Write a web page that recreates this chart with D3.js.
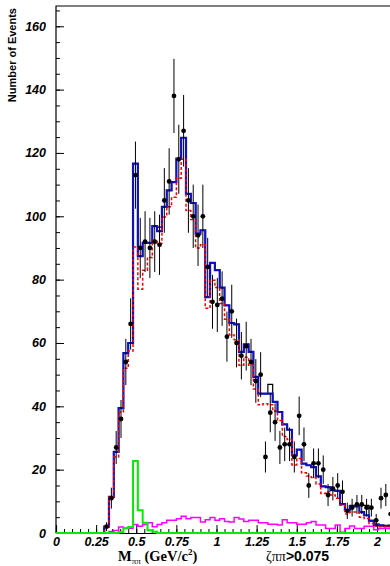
<!DOCTYPE html>
<html>
<head>
<meta charset="utf-8">
<script src="https://cdn.jsdelivr.net/npm/d3@7"></script>
<style>
  body { margin: 0; background: #fff; }
  svg { display: block; }
</style>
</head>
<body>
<svg id="chart" width="390" height="566"></svg>
<script>
// histogram binning (GeV/c^2), first listed bin starts at binLo
const binLo = 0.30;
const binW = 0.03;

// data (points)
const dataCounts = [2, 11, 27, 36, 54, 66, 113, 90, 92, 90, 92, 91, 105, 111, 138, 118, 127, 105, 100, 94,
  100, 84, 73, 72, 74, 62, 70, 60, 56, 59, 54, 48, 50, 24, 38, 35, 27, 28, 28, 24,
  37, 28, 15, 22, 22, 20, 12, 14, 15, 13, 7, 8, 9, 9, 8, 8, 4, 11, 12, 6];
const dataErr = [1.4, 3.3, 5.2, 6, 7.3, 8.1, 10.6, 9.5, 9.6, 9.5, 9.6, 9.5, 10.2, 10.5, 11.7, 10.9, 11.3, 10.2, 10, 9.7,
  10, 9.2, 8.5, 8.5, 8.6, 7.9, 8.4, 7.7, 7.5, 7.7, 7.3, 6.9, 7.1, 4.9, 6.2, 5.9, 5.2, 5.3, 5.3, 4.9,
  6.1, 5.3, 3.9, 4.7, 4.7, 4.5, 3.5, 3.7, 3.9, 3.6, 2.6, 2.8, 3, 3, 2.8, 2.8, 2, 3.3, 3.5, 2.4];

// fit total (blue)
const fitTotal = [2, 11.4, 25.6, 39.4, 56.8, 60, 116.6, 87.4, 91.6, 91.6, 96.9, 95.3, 103, 108.2, 110.8, 118.2, 124.8, 107.1, 104.2, 94.5,
  95.6, 74.5, 85.3, 83, 77.5, 71.9, 66.3, 65.9, 57.2, 59.6, 57.2, 49.3, 44, 44, 44, 41.4, 38.2, 34.3, 32.6, 24.5,
  26.3, 21.9, 21.4, 20.8, 17.9, 14.7, 14.5, 13.5, 13.3, 9.1, 7.2, 8.4, 8.4, 6.6, 5.6, 3.8, 2.7, 2.4, 2.2, 2.2];
// MC total (black)
const mcTotal = [2, 11.4, 25.6, 39.4, 56.8, 60, 116.6, 87.4, 91.6, 91.6, 96.9, 96.6, 103, 108.2, 110.8, 118.2, 124.8, 107.1, 104.2, 94.5,
  95.6, 74.5, 85.3, 83, 77.5, 71.9, 66.3, 65.9, 57.2, 59.6, 57.2, 49.3, 44, 44, 46.9, 41.4, 38.2, 34.3, 32.6, 24.5,
  26.3, 21.9, 21.4, 20.8, 17.9, 14.7, 14.5, 13.5, 13.3, 9.3, 7.2, 8.7, 8.7, 8.7, 8.7, 4, 2.4, 2.4, 2.4, 2.5];
// signal component (red dashed)
const sigComp = [2, 11.4, 24, 38.2, 52, 57.5, 90.3, 77, 83, 87, 92.4, 91.5, 99.8, 103, 106, 112, 118, 101.8, 99, 90,
  91, 71, 79.8, 77.5, 72.5, 67.5, 62.5, 61, 53, 55.5, 53, 45.5, 40.5, 40.8, 40.5, 38.5, 35.5, 30.5, 29.5, 21.5,
  23.5, 19, 18, 17.5, 15.5, 12.5, 13, 12, 11, 8.8, 6, 6.6, 6.6, 5, 4.6, 3, 2.2, 2, 2, 2];
// K0s component (green)
const ksComp = [0, 0, 0, 0.3, 1.5, 1.9, 22.7, 7.2, 3.2, 0.9, 0.4, 0, 0, 0, 0, 0, 0, 0, 0, 0,
  0, 0, 0, 0, 0, 0, 0, 0, 0, 0, 0, 0, 0, 0, 0, 0, 0, 0, 0, 0,
  0, 0, 0, 0, 0, 0, 0, 0, 0, 0, 0, 0, 0, 0, 0, 0, 0, 0, 0, 0];
// background component (magenta)
const bkgComp = [0, 0.5, 0.8, 1.9, 1.5, 1.5, 2.7, 2.1, 2.7, 3.2, 2, 2.7, 3.2, 4, 4, 4.5, 5.3, 4.5, 4.9, 4.9,
  3.5, 4.2, 4.9, 4, 4.5, 3.6, 3.5, 4.9, 4.4, 3.6, 4, 4, 3.2, 3.2, 2.8, 2.8, 2.5, 4.2, 3.2, 3.2,
  2.8, 2.8, 3.2, 3.6, 2.5, 2.5, 1.4, 1.4, 2.5, 0.2, 1.4, 2.2, 1.4, 1.4, 2.1, 2.1, 1, 1.4, 1.4, 1.4];

const xTicks = [0, 0.25, 0.5, 0.75, 1, 1.25, 1.5, 1.75, 2];
const xTickLabels = ['0', '0.25', '0.5', '0.75', '1', '1.25', '1.5', '1.75', '2'];
const yTicks = [0, 20, 40, 60, 80, 100, 120, 140, 160];

const svg = d3.select('#chart');
const padL = 56, padR = 390, padT = 6, padB = 533;

const x = d3.scaleLinear().domain([0, 2.081]).range([padL, padR]);
const y = d3.scaleLinear().domain([0, 166.4]).range([padB, padT]);

const lo = i => binLo + i * binW;

// frame
svg.append('path')
  .attr('d', `M${padL},${padB}V${padT}H${padR}`)
  .attr('fill', 'none')
  .attr('stroke', '#000')
  .attr('stroke-width', 1.2);

// y axis (ticks inward)
const yAxis = svg.append('g')
  .attr('transform', `translate(${padL},0)`)
  .call(d3.axisLeft(y).tickValues(yTicks).tickSize(-8).tickPadding(10).tickFormat(d3.format('d')))
  .call(g => g.select('.domain').remove());
svg.append('g')
  .attr('transform', `translate(${padL},0)`)
  .call(d3.axisLeft(y).tickValues(d3.range(0, 166, 5)).tickSize(-4).tickFormat(''))
  .call(g => g.select('.domain').remove());

// x axis
const xAxis = svg.append('g')
  .attr('transform', `translate(0,${padB})`)
  .call(d3.axisBottom(x).tickValues(xTicks).tickSize(-8).tickPadding(4).tickFormat((d, i) => xTickLabels[i]));
svg.append('g')
  .attr('transform', `translate(0,${padB})`)
  .call(d3.axisBottom(x).tickValues(d3.range(0, 2.08, 0.05)).tickSize(-4).tickFormat(''))
  .call(g => g.select('.domain').remove());

xAxis.select('.domain').attr('stroke-width', 1.2);
[xAxis, yAxis].forEach(g => g.selectAll('text')
  .attr('fill', '#000')
  .style('font-family', '"Liberation Sans", Arial, sans-serif')
  .style('font-size', '12.5px')
  .style('font-weight', 'bold')
  .style('font-style', 'italic'));

// step outline of a histogram
function stepPath(vals, startAtZero) {
  const pts = [];
  if (startAtZero) pts.push([x(0), y(0)]);
  pts.push([x(lo(0)), y(0)]);
  vals.forEach((v, i) => pts.push([x(lo(i)), y(v)]));
  pts.push([x(lo(vals.length)), y(vals[vals.length - 1])]);
  return d3.line().curve(d3.curveStepAfter)(pts);
}

svg.append('path')
  .attr('d', stepPath(bkgComp, false))
  .attr('fill', 'none').attr('stroke', '#ff00ff').attr('stroke-width', 1.5);

svg.append('path')
  .attr('d', stepPath(mcTotal, false))
  .attr('fill', 'none').attr('stroke', '#000').attr('stroke-width', 1.2);

svg.append('path')
  .attr('d', stepPath(fitTotal, false))
  .attr('fill', 'none').attr('stroke', '#1010c0').attr('stroke-width', 2.2);

svg.append('path')
  .attr('d', stepPath(sigComp, false))
  .attr('fill', 'none').attr('stroke', '#ff0000').attr('stroke-width', 1.5)
  .attr('stroke-dasharray', '3,2');

svg.append('path')
  .attr('d', stepPath(ksComp, true))
  .attr('fill', 'none').attr('stroke', '#00ee00').attr('stroke-width', 2);

// data points with errors
const pts = svg.append('g');
pts.selectAll('line')
  .data(dataCounts)
  .join('line')
  .attr('x1', (d, i) => x(lo(i) + binW / 2))
  .attr('x2', (d, i) => x(lo(i) + binW / 2))
  .attr('y1', (d, i) => y(d - dataErr[i]))
  .attr('y2', (d, i) => y(d + dataErr[i]))
  .attr('stroke', '#000')
  .attr('stroke-width', 1);
pts.selectAll('circle')
  .data(dataCounts)
  .join('circle')
  .attr('cx', (d, i) => x(lo(i) + binW / 2))
  .attr('cy', d => y(d))
  .attr('r', 2.4)
  .attr('fill', '#000');

// titles
svg.append('text')
  .attr('transform', 'translate(16,8) rotate(-90)')
  .attr('text-anchor', 'end')
  .style('font-family', '"Liberation Sans", Arial, sans-serif')
  .style('font-size', '11px')
  .style('font-weight', 'bold')
  .text('Number of Events');

const xt = svg.append('text')
  .attr('x', 118)
  .attr('y', 561)
  .style('font-family', '"Liberation Serif", "Times New Roman", serif')
  .style('font-size', '14.5px')
  .style('font-weight', 'bold');
xt.append('tspan').text('M');
xt.append('tspan').attr('dy', 3).style('font-size', '9px').style('font-weight', 'normal').text('ππ');
xt.append('tspan').attr('dy', -3).text(' (GeV/c');
xt.append('tspan').attr('dy', -6).style('font-size', '9px').text('2');
xt.append('tspan').attr('dy', 6).text(')');

const cut = svg.append('text')
  .attr('x', 266)
  .attr('y', 561)
  .style('font-size', '14px');
cut.append('tspan')
  .style('font-family', '"Liberation Serif", "Times New Roman", serif')
  .text('ζππ');
cut.append('tspan')
  .style('font-family', '"Liberation Sans", Arial, sans-serif')
  .style('font-weight', 'bold')
  .text('>0.075');
</script>
</body>
</html>
